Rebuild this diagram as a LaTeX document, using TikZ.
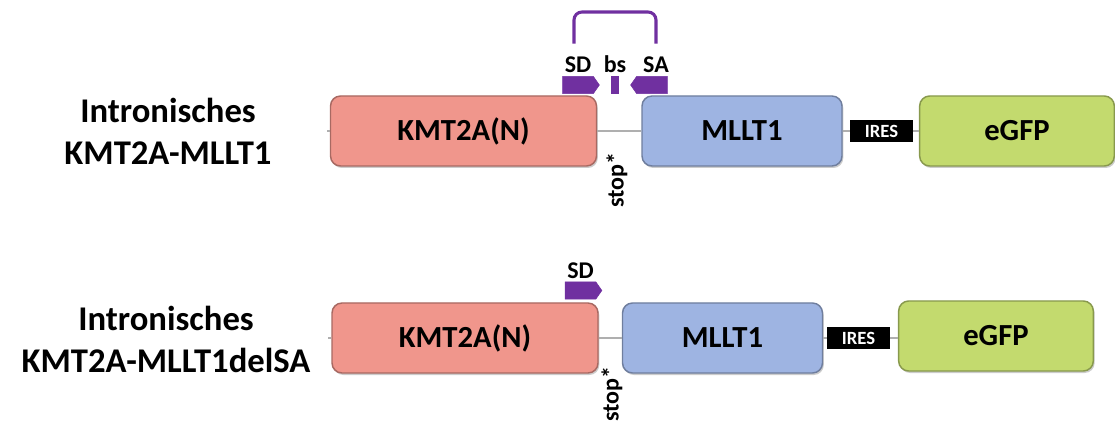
\documentclass[tikz,border=0pt]{standalone}
\usepackage{fontspec}
\setmainfont{Carlito}
\usetikzlibrary{shapes,shapes.symbols,positioning,calc,shadows}
\definecolor{kmtcolor}{RGB}{240,150,140}
\definecolor{mlltcolor}{RGB}{158,180,226}
\definecolor{gfpcolor}{RGB}{195,218,110}
\definecolor{splicecolor}{RGB}{112,48,160}
\definecolor{linecolor}{RGB}{175,175,175}

\begin{document}
\begin{tikzpicture}[
    x=0.75pt, y=-0.75pt,
    gene/.style={rectangle, rounded corners=7.5pt, minimum height=52.5pt, inner sep=0pt,
        line width=1.1pt, font=\fontsize{23}{27}\selectfont\bfseries,
        drop shadow={shadow xshift=1pt, shadow yshift=-1.5pt, opacity=0.4}},
    kmt/.style={gene, fill=kmtcolor, draw=kmtcolor!70!black, minimum width=199.5pt},
    mllt/.style={gene, fill=mlltcolor, draw=mlltcolor!70!black, minimum width=150pt},
    gfp/.style={gene, fill=gfpcolor, draw=gfpcolor!70!black, minimum width=146pt},
    ires/.style={rectangle, fill=black, text=white, minimum width=47pt, minimum height=16.5pt,
        inner sep=0pt, font=\fontsize{14}{16}\selectfont\bfseries},
    site/.style={signal, fill=splicecolor, draw=splicecolor, inner sep=0pt,
        minimum width=27.5pt, minimum height=13pt, signal pointer angle=110},
    backbone/.style={linecolor, line width=1.6pt},
    splice/.style={splicecolor, line width=2.3pt, rounded corners=6pt},
    label/.style={font=\fontsize{18}{21}\selectfont\bfseries, inner sep=1pt},
    title/.style={font=\fontsize{26}{31.5}\selectfont\bfseries, align=center}
]
\useasboundingbox (0,0) rectangle (1115,424);

% Construct names
\node[title] (nameA) at (168,131) {Intronisches\\KMT2A-MLLT1};
\node[title] (nameB) at (166,339) {Intronisches\\KMT2A-MLLT1delSA};

% Upper construct
\coordinate (startA) at (327,131);
\node[kmt] (kmtA) at (463.5,131) {KMT2A(N)};
\node[mllt] (mlltA) at (742,131) {MLLT1};
\node[ires] (iresA) at (881.5,131) {IRES};
\node[gfp] (gfpA) at (1017,131) {eGFP};

\draw[backbone] (startA) -- (kmtA.west);
\draw[backbone] (kmtA.east) -- (mlltA.west);
\draw[backbone] (mlltA.east) -- (iresA.west);
\draw[backbone] (iresA.east) -- (gfpA.west);

% Splice sites and branch site
\node[site, signal to=east] (sdA) at (578,85) {};
\node[rectangle, fill=splicecolor, minimum width=6pt, minimum height=13.5pt, inner sep=0pt] (bsA) at (615,85) {};
\node[site, signal to=west] (saA) at (652,85) {};
\node[label, above=1pt of sdA] (sdtxtA) {SD};
\node[label, anchor=base] (bstxtA) at (sdtxtA.base -| bsA) {bs};
\node[label, anchor=base] (satxtA) at ($(sdtxtA.base -| saA)+(4,0)$) {SA};
\coordinate (topA) at (615,12);
\draw[splice] ([xshift=-3pt,yshift=9pt]sdtxtA.north) |- (topA) -| ([yshift=9pt]satxtA.north);

\node[label, rotate=90] (stopA) at (617,180) {stop*};

% Lower construct
\coordinate (startB) at (328,338);
\node[kmt] (kmtB) at (465,338) {KMT2A(N)};
\node[mllt] (mlltB) at (722.5,338) {MLLT1};
\node[ires] (iresB) at (858.5,338) {IRES};
\node[gfp] (gfpB) at (996,336) {eGFP};

\draw[backbone] (startB) -- (kmtB.west);
\draw[backbone] (kmtB.east) -- (mlltB.west);
\draw[backbone] (mlltB.east) -- (iresB.west);
\draw[backbone] (iresB.east) -- (gfpB.west |- iresB.east);

\node[site, signal to=east] (sdB) at (580.5,290.5) {};
\node[label, above=1pt of sdB] (sdtxtB) {SD};

\node[label, rotate=90] (stopB) at (612,394) {stop*};

\end{tikzpicture}
\end{document}
